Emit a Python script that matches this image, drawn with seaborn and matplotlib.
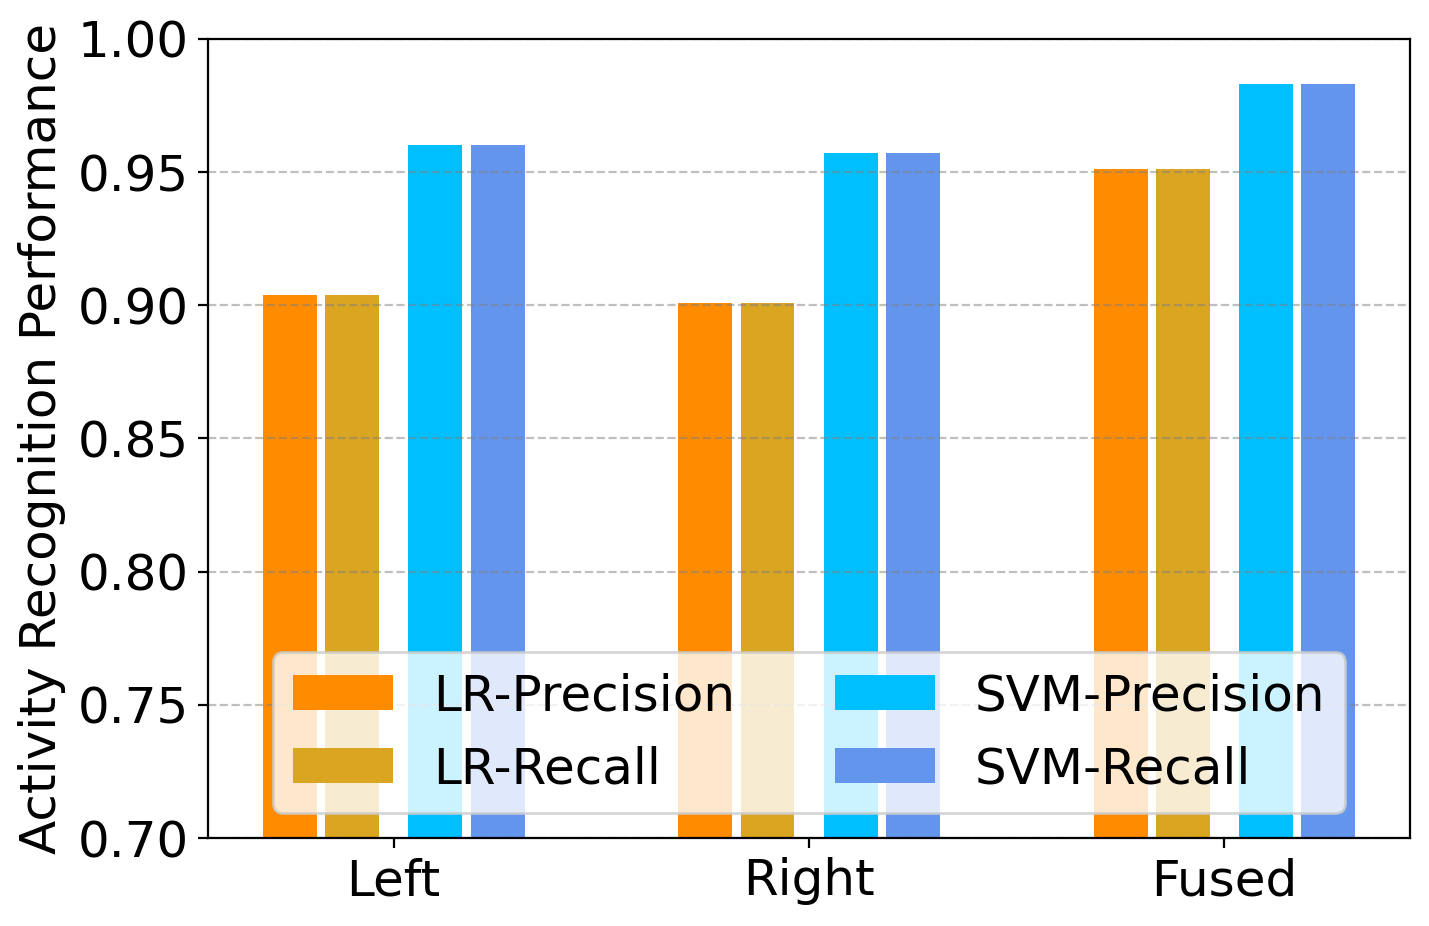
import numpy as np
import pandas as pd
import matplotlib
matplotlib.use('Agg')
import matplotlib.pyplot as plt
import seaborn as sns

# datos
grupos = ['Left', 'Right', 'Fused']
lr_precision = [0.904, 0.901, 0.951]
lr_recall = [0.904, 0.901, 0.951]
svm_precision = [0.960, 0.957, 0.983]
svm_recall = [0.960, 0.957, 0.983]

series = {
    'LR-Precision': lr_precision,
    'LR-Recall': lr_recall,
    'SVM-Precision': svm_precision,
    'SVM-Recall': svm_recall,
}
colores = ['darkorange', 'goldenrod', 'deepskyblue', 'cornflowerblue']
desplazamientos = [-0.25, -0.1, 0.1, 0.25]
ancho = 0.13

fig = plt.figure(figsize=(1429 / 200, 926 / 200), dpi=200)
ax = fig.add_axes([0.1456, 0.095, 0.8411, 0.863])

x = np.arange(len(grupos))
for (nombre, valores), color, dx in zip(series.items(), colores, desplazamientos):
    df = pd.DataFrame({'pos': x + dx, 'valor': valores})
    sns.barplot(data=df, x='pos', y='valor', native_scale=True, width=ancho,
                color=color, saturation=1, label=nombre, ax=ax)

ax.set_ylim(0.70, 1.00)
ax.set_xlim(-0.447, 2.447)
ax.set_xticks(x)
ax.set_xticklabels(grupos, fontsize=18)
ax.set_yticks(np.arange(0.70, 1.001, 0.05))
ax.set_yticklabels([f'{v:.2f}' for v in np.arange(0.70, 1.001, 0.05)], fontsize=18)
ax.set_xlabel('')
ax.set_ylabel('Activity Recognition Performance', fontsize=18)
ax.yaxis.grid(True, linestyle='--', color='gray', alpha=0.5)

ax.legend(loc='lower center', ncol=2, fontsize=18)

plt.savefig('out.png', dpi=200)
plt.close()
